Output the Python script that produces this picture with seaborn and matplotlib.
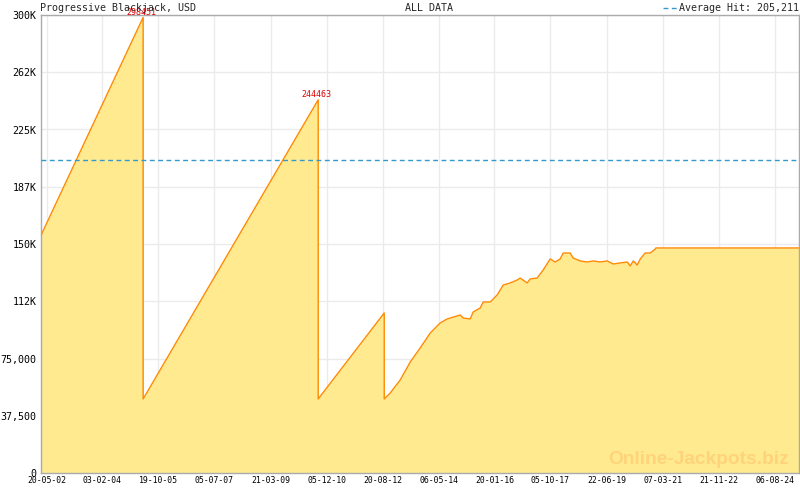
import matplotlib
matplotlib.use("Agg")
import matplotlib.pyplot as plt
import matplotlib.dates as mdates
from matplotlib.lines import Line2D
import seaborn as sns
import pandas as pd

# ---------------- data ----------------
dates = [
    "2002-03-14", "2005-05-01", "2005-05-01", "2010-09-03", "2010-09-03",
    "2012-09-08", "2012-09-08", "2012-11-14", "2013-03-05", "2013-06-25",
    "2013-10-14", "2014-02-03", "2014-05-25", "2014-08-11", "2015-01-03",
    "2015-02-05", "2015-04-24", "2015-05-28", "2015-08-14", "2015-09-16",
    "2015-12-03", "2016-02-19", "2016-04-26", "2016-07-13", "2016-09-29",
    "2016-11-01", "2017-01-18", "2017-02-21", "2017-05-10", "2017-07-16",
    "2017-10-02", "2017-11-26", "2018-01-21", "2018-02-24", "2018-05-13",
    "2018-06-15", "2018-09-02", "2018-11-19", "2019-01-25", "2019-04-13",
    "2019-06-30", "2019-09-05", "2019-11-22", "2020-02-08", "2020-03-12",
    "2020-04-15", "2020-05-29", "2020-07-02", "2020-08-26", "2020-10-21",
    "2020-12-16", "2020-12-22", "2025-05-06",
]
values = [
    155000, 298451, 48500, 244463, 48500,
    104800, 48500, 52400, 60900, 72700,
    81900, 91700, 98300, 100900, 103500,
    101500, 100900, 105500, 108100, 112000,
    112000, 116600, 123100, 124500, 126400,
    127700, 124500, 127100, 127700, 133000,
    140200, 138200, 140200, 144100, 144100,
    140800, 138900, 138200, 138900, 138200,
    138900, 136900, 137600, 138200, 135600,
    138900, 136200, 140200, 144100, 144100,
    146700, 147400, 147400,
]
peak_labels = ["298451", "244463"]
peak_dates = ["2005-05-01", "2010-09-03"]
peak_values = [298451, 244463]
average_hit = 205211

x_tick_dates = [
    "2002-05-20", "2004-02-03", "2005-10-19", "2007-07-05", "2009-03-21",
    "2010-12-05", "2012-08-20", "2014-05-06", "2016-01-20", "2017-10-05",
    "2019-06-22", "2021-03-07", "2022-11-21", "2024-08-06",
]
y_ticks = [0, 37500, 75000, 112500, 150000, 187500, 225000, 262500, 300000]
y_tick_labels = ["0", "37,500", "75,000", "112K", "150K", "187K", "225K", "262K", "300K"]

title_left = "Progressive Blackjack, USD"
title_mid = "ALL DATA"
legend_text = "Average Hit: 205,211"
watermark = "Online-Jackpots.biz"

# ---------------- plot ----------------
sns.set_theme(style="white")
plt.rcParams["font.family"] = ["DejaVu Sans Mono", "DejaVu Sans"]

df = pd.DataFrame({"date": pd.to_datetime(dates), "value": values})

W, H = 800, 490
fig = plt.figure(figsize=(8, 4.9), dpi=100)
ax = fig.add_axes([40.5 / W, 17 / H, 758.5 / W, 458 / H])

ax.fill_between(df["date"], df["value"], 0, color="#FFEA90", linewidth=0, zorder=2)
sns.lineplot(data=df, x="date", y="value", ax=ax, estimator=None, sort=False,
             color="#FF8A00", linewidth=1.0, zorder=3)
ax.axhline(average_hit, color="#3399CC", linewidth=1.0,
           linestyle=(0, (3.5, 2.5)), zorder=4)

for lab, d, v in zip(peak_labels, peak_dates, peak_values):
    ax.annotate(lab, xy=(pd.Timestamp(d), v), xytext=(-1, 0.5),
                textcoords="offset points", ha="center", va="bottom",
                fontsize=6, color="#DD0000", clip_on=False, zorder=6)

ax.text(0.987, 0.012, watermark, transform=ax.transAxes, ha="right", va="bottom",
        fontsize=13.8, fontweight="bold", family="Liberation Sans",
        color="#FFD37A", zorder=5)

ax.set_xlim(pd.Timestamp("2002-03-14"), pd.Timestamp("2025-05-06"))
ax.set_ylim(0, 300000)

major = [pd.Timestamp(d) for d in x_tick_dates]
ax.set_xticks(major)
ax.set_xticklabels([d.strftime("%d-%m-%y") for d in major])
start = mdates.date2num(major[0])
step = 624 / 7
minor = [start + k * step for k in range(-1, 14 * 7 + 4)]
lo, hi = mdates.date2num(pd.Timestamp("2002-03-14")), mdates.date2num(pd.Timestamp("2025-05-06"))
ax.set_xticks([m for m in minor if lo < m < hi], minor=True)

ax.set_yticks(y_ticks)
ax.set_yticklabels(y_tick_labels)
ax.set_xlabel("")
ax.set_ylabel("")

ax.tick_params(axis="x", which="both", direction="in", color="#AAAAAA",
               labelcolor="black", labelsize=5.9, pad=2.5, width=1)
ax.tick_params(axis="x", which="major", length=4)
ax.tick_params(axis="x", which="minor", length=2.2)
ax.tick_params(axis="y", length=0, labelsize=7.2, pad=3, labelcolor="black")

ax.grid(True, which="major", color="#EBEBEB", linewidth=1)
ax.set_axisbelow(True)
for s in ax.spines.values():
    s.set_color("#AAAAAA")
    s.set_linewidth(1)
    s.set_visible(True)

ty = 1 - 8 / H
fig.text(40.5 / W, ty, title_left, fontsize=7.2, ha="left", va="center")
fig.text(405 / W, ty, title_mid, fontsize=7.2, ha="left", va="center")
fig.text(799 / W, ty, legend_text, fontsize=7.2, ha="right", va="center")
fig.lines.append(Line2D([663 / W, 677 / W], [ty, ty], transform=fig.transFigure,
                        color="#3399CC", linewidth=1.0, linestyle=(0, (3.5, 2.5))))

fig.savefig("out.png", dpi=100)
